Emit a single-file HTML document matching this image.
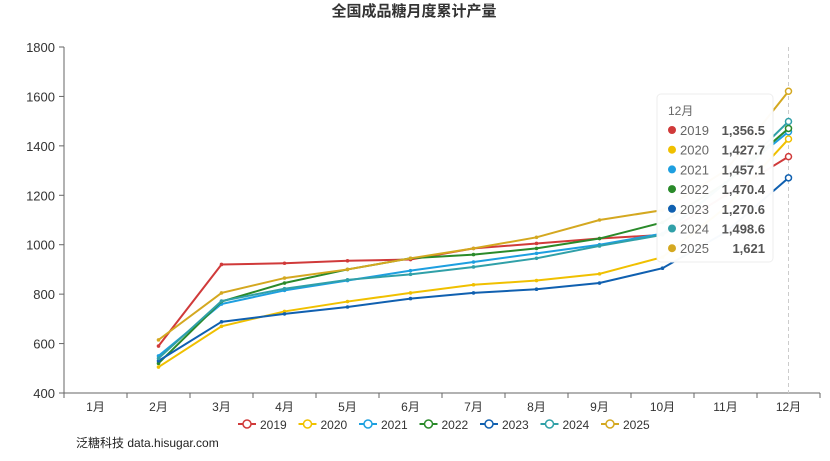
<!DOCTYPE html>
<html><head><meta charset="utf-8"><style>
body{margin:0;background:#fff;width:830px;height:456px;overflow:hidden;font-family:"Liberation Sans","Noto Sans CJK SC",sans-serif}
</style></head><body>
<svg id="s" width="830" height="456" xmlns="http://www.w3.org/2000/svg" font-family="Liberation Sans, Noto Sans CJK SC, sans-serif">
<text x="414" y="16" text-anchor="middle" font-size="15" font-weight="bold" fill="#333">全国成品糖月度累计产量</text>
<text x="76" y="447" font-size="12" fill="#222">泛糖科技 data.hisugar.com</text>
</svg>
<script>
const s=document.getElementById('s');const NS='http://www.w3.org/2000/svg';
function el(t,a,txt){const e=document.createElementNS(NS,t);for(const k in a)e.setAttribute(k,a[k]);if(txt!=null)e.textContent=txt;s.appendChild(e);return e;}
const X=i=>95.5+63*(i-1), Y=v=>393-(v-400)*346/1400;
el('line',{x1:64,y1:47,x2:64,y2:393,stroke:'#666'});
el('line',{x1:64,y1:393,x2:820,y2:393,stroke:'#666'});
for(let v=400;v<=1800;v+=200){const y=Y(v);el('line',{x1:59,y1:y,x2:64,y2:y,stroke:'#666'});el('text',{x:55,y:y+5,'text-anchor':'end','font-size':13,fill:'#333'},v);}
for(let i=0;i<=12;i++){const x=64+63*i;el('line',{x1:x,y1:393,x2:x,y2:398,stroke:'#666'});}
for(let i=1;i<=12;i++)el('text',{x:X(i),y:411,'text-anchor':'middle','font-size':12,fill:'#333'},i+'月');
el('line',{x1:X(12),y1:47,x2:X(12),y2:393,stroke:'#ccc','stroke-dasharray':'4,3'});
const D=[
['2019','#d03a3a',[590,920,925,935,940,985,1005,1025,1040,1200,1356.5]],
['2020','#f0c000',[505,670,730,770,805,838,855,882,950,1150,1427.7]],
['2021','#1e9fe0',[550,760,815,855,895,930,965,1000,1045,1250,1457.1]],
['2022','#2a8a2a',[520,770,845,900,945,960,985,1025,1090,1250,1470.4]],
['2023','#1060b0',[530,688,720,748,782,805,820,845,905,1050,1270.6]],
['2024','#30a0a8',[540,772,822,858,880,910,945,995,1040,1250,1498.6]],
['2025','#d4a820',[615,805,865,900,945,985,1030,1100,1140,1300,1621]]];
D.forEach(([n,c,v])=>{const p=v.map((a,j)=>X(j+2)+','+Y(a)).join(' ');
el('polyline',{points:p,fill:'none',stroke:c,'stroke-width':2});
v.forEach((a,j)=>{if(j<10)el('circle',{cx:X(j+2),cy:Y(a),r:1.8,fill:c});});
el('circle',{cx:X(12),cy:Y(v[10]),r:3,fill:'#fff',stroke:c,'stroke-width':1.5});});
D.forEach(([n,c],k)=>{const x=238+60.5*k;el('line',{x1:x,y1:424,x2:x+18,y2:424,stroke:c,'stroke-width':2});
el('circle',{cx:x+9,cy:424,r:4,fill:'#fff',stroke:c,'stroke-width':1.5});
el('text',{x:x+22,y:429,'font-size':12,fill:'#333'},n);});
el('rect',{x:657,y:94,width:116,height:168,rx:4,fill:'#fff',stroke:'#eee','fill-opacity':0.97});
el('text',{x:668,y:115,'font-size':12,fill:'#666'},'12月');
const vals=['1,356.5','1,427.7','1,457.1','1,470.4','1,270.6','1,498.6','1,621'];
D.forEach(([n,c],k)=>{const y=130+19.7*k;el('circle',{cx:672,cy:y,r:4,fill:c});
el('text',{x:680,y:y+5,'font-size':13,fill:'#666'},n);
el('text',{x:765,y:y+5,'font-size':13,'font-weight':'bold','text-anchor':'end',fill:'#555'},vals[k]);});
</script>
</body></html>
